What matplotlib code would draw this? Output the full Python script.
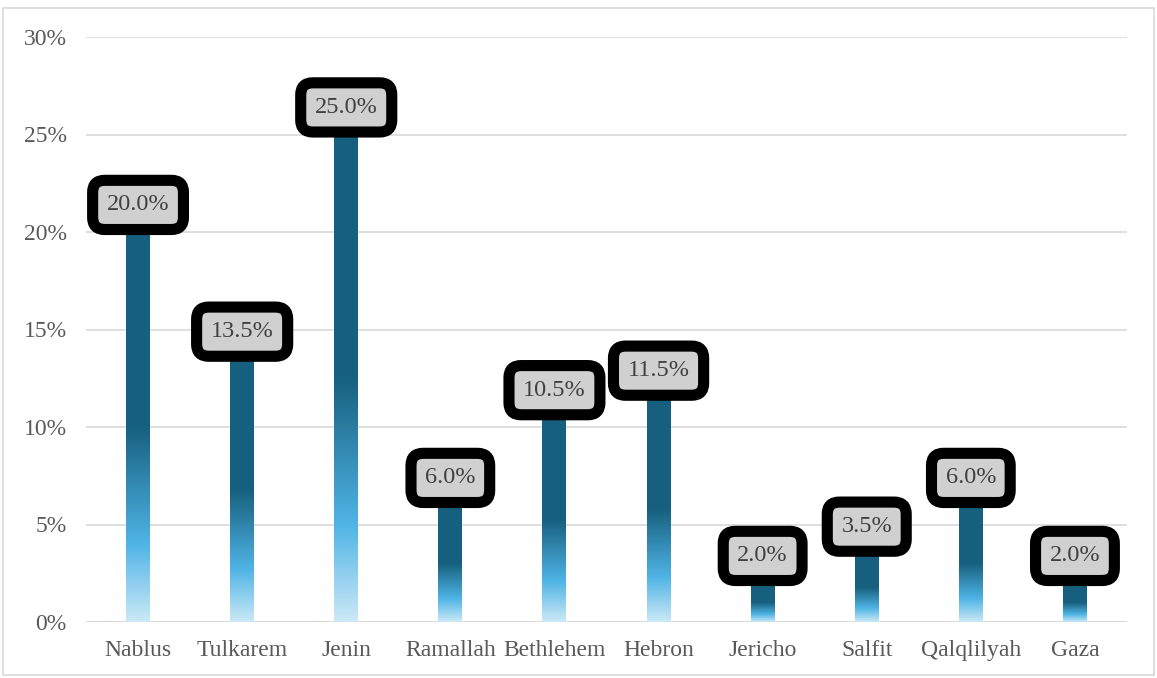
import numpy as np
import matplotlib.pyplot as plt
from matplotlib.colors import LinearSegmentedColormap
from matplotlib.patches import Rectangle

plt.rcParams['font.family'] = ['Liberation Serif', 'DejaVu Serif']

cities = ["Nablus", "Tulkarem", "Jenin", "Ramallah", "Bethlehem", "Hebron",
          "Jericho", "Salfit", "Qalqlilyah", "Gaza"]
shares = [20.0, 13.5, 25.0, 6.0, 10.5, 11.5, 2.0, 3.5, 6.0, 2.0]
yticks = [0, 5, 10, 15, 20, 25, 30]

grad = LinearSegmentedColormap.from_list(
    "bar", [(0.0, "#cbe9f7"), (0.2, "#4fb4e5"), (0.5, "#17607f"), (1.0, "#175f80")])

fig = plt.figure(figsize=(11.57, 6.78), dpi=100)
ax = fig.add_axes([86 / 1157, 1 - 622 / 678, 1041 / 1157, 585 / 678])

x = np.arange(len(cities))
w = 0.23
g = np.linspace(0, 1, 256).reshape(-1, 1)
for xi, v in zip(x, shares):
    ax.imshow(g, cmap=grad, origin="lower", aspect="auto",
              extent=[xi - w / 2, xi + w / 2, 0, v], zorder=2, interpolation="bilinear")
    ax.annotate(f"{v:.1f}%", xy=(xi, v), xytext=(0, 19.5), textcoords="offset points",
                ha="center", va="center", fontsize=17.5, color="#404040", zorder=5,
                bbox=dict(boxstyle="round,pad=0.58,rounding_size=0.5", fc="#d0d0d0",
                          ec="black", lw=8))

ax.set_xlim(-0.5, len(cities) - 0.5)
ax.set_ylim(0, 30)
ax.set_yticks(yticks)
ax.set_yticklabels([f"{t}%" for t in yticks])
ax.set_xticks(x)
ax.set_xticklabels(cities)
ax.tick_params(axis="both", length=0, labelsize=17, labelcolor="#595959")
ax.tick_params(axis="y", pad=14)
ax.tick_params(axis="x", pad=13)
ax.grid(axis="y", color="#d9d9d9", lw=1.2, zorder=0)
for s in ax.spines.values():
    s.set_visible(False)
ax.axhline(0, color="#d9d9d9", lw=1.5, zorder=1)

fig.patches.append(Rectangle((3 / 1157, 1 - 675 / 678), 1151 / 1157, 667 / 678,
                             transform=fig.transFigure, fill=False, ec="#d9d9d9", lw=1.2))

fig.savefig("out.png", dpi=100)
